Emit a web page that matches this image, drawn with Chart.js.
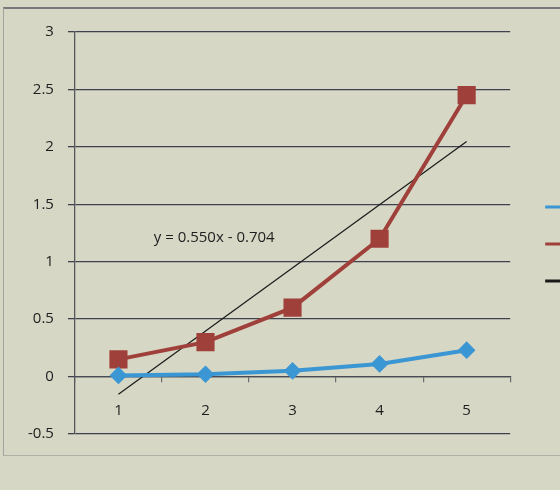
<!DOCTYPE html>
<html><head><meta charset="utf-8">
<script src="https://cdn.jsdelivr.net/npm/chart.js@4"></script>
<style>
html,body{margin:0;padding:0;background:#d6d7c5;overflow:hidden;width:560px;height:490px;}
#frame{position:absolute;left:3px;top:7px;width:620px;height:446px;border-top:2px solid #777a78;border-left:1px solid #a3a59c;border-bottom:1px solid #b0b1a6;}
#wrap{position:absolute;left:0;top:0;width:625px;height:490px;}
</style></head><body>
<div id="frame"></div>
<div id="wrap"><canvas id="c" width="625" height="490"></canvas></div>
<script>
const categories = ['1', '2', '3', '4', '5'];
const series1 = [0.01, 0.02, 0.05, 0.11, 0.23];
const series2 = [0.15, 0.30, 0.60, 1.20, 2.45];
const trendLine = [-0.154, null, null, null, 2.046];
const seriesNames = ['Series1', 'Series2', 'Linear (Series2)'];
const yMin = -0.5, yMax = 3, yStep = 0.5;
const trendLabel = 'y = 0.550x - 0.704';
const trendLabelAt = {x: 1.1, y: 1.21};

const FONT = '"Open Sans", "Liberation Sans", sans-serif';
const BLUE = '#3b96d4', RED = '#a0403b', BLACK = '#1a1a1a';

const eqPlugin = {
  id: 'eq',
  afterDatasetsDraw(chart) {
    const {ctx, scales} = chart;
    const x = scales.x.getPixelForValue(trendLabelAt.x);
    const y = scales.y.getPixelForValue(trendLabelAt.y);
    ctx.save();
    ctx.font = '15px ' + FONT;
    ctx.fillStyle = '#1e1e1e';
    ctx.textAlign = 'center';
    ctx.textBaseline = 'middle';
    ctx.fillText(trendLabel, x, y);
    ctx.restore();
  }
};

new Chart(document.getElementById('c'), {
  type: 'line',
  data: {
    labels: categories,
    datasets: [
      {label: seriesNames[0], data: series1, borderColor: BLUE, backgroundColor: BLUE,
       borderWidth: 4, pointStyle: 'rectRot', pointRadius: 6, pointHoverRadius: 6, tension: 0},
      {label: seriesNames[1], data: series2, borderColor: RED, backgroundColor: RED,
       borderWidth: 4, pointStyle: 'rect', pointRadius: 10, pointHoverRadius: 10, tension: 0},
      {label: seriesNames[2], data: trendLine, borderColor: BLACK, backgroundColor: BLACK,
       borderWidth: 1.2, pointRadius: 0, spanGaps: true, tension: 0}
    ]
  },
  options: {
    responsive: false,
    animation: false,
    layout: {padding: {top: 32, left: 14, bottom: 56, right: 0}},
    plugins: {
      tooltip: {enabled: false},
      legend: {
        position: 'right',
        title: {display: true, text: ' ', font: {size: 10}, padding: {top: 0, bottom: 10}},
        labels: {
          padding: 22, boxWidth: 40, boxHeight: 3,
          color: '#1e1e1e', font: {family: FONT, size: 15},
          generateLabels(chart) {
            return chart.data.datasets.map((d, i) => ({
              text: d.label, fillStyle: d.borderColor, strokeStyle: d.borderColor,
              lineWidth: 0, hidden: false, datasetIndex: i, fontColor: '#1e1e1e'
            }));
          }
        }
      }
    },
    scales: {
      x: {
        type: 'category',
        position: {y: 0},
        offset: true,
        grid: {drawOnChartArea: false, offset: true, tickLength: 5, color: '#6a6c70', lineWidth: 1.2},
        border: {display: true, color: '#4a4c55', width: 1.3},
        ticks: {color: '#1e1e1e', padding: 20, font: {family: FONT, size: 15}}
      },
      y: {
        min: yMin, max: yMax,
        ticks: {stepSize: yStep, color: '#1e1e1e', padding: 14, font: {family: FONT, size: 15},
                callback: v => String(v)},
        grid: {color: '#3f414e', lineWidth: 1.3, tickLength: 7},
        border: {display: true, color: '#55575f', width: 1.3}
      },
      yR: {
        type: 'linear', position: 'right', display: true,
        ticks: {display: false}, grid: {display: false}, border: {display: false},
        afterFit(s) { s.width = 13; }
      }
    }
  },
  plugins: [eqPlugin]
});
</script>
</body></html>
